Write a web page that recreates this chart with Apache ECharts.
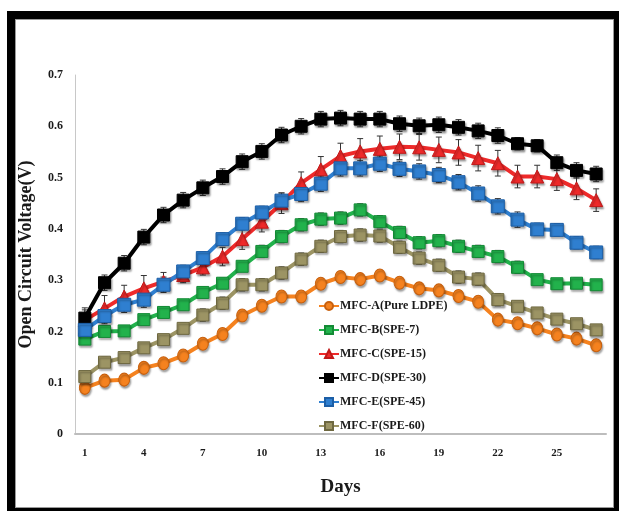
<!DOCTYPE html>
<html>
<head>
<meta charset="utf-8">
<script src="https://cdn.jsdelivr.net/npm/echarts@6/dist/echarts.min.js"></script>
<style>
  html, body { margin: 0; padding: 0; background: #fff; }
  #frame { position: absolute; left: 7px; top: 11px; width: 612px; height: 500px; background: #000; }
  #inner { position: absolute; left: 15px; top: 19px; width: 597px; height: 487px; background: #fff; border: 1px solid #9a9a9a; }
  #main { position: absolute; left: 0; top: 0; width: 619px; height: 511px; }
</style>
</head>
<body>
<div id="frame"></div>
<div id="inner"></div>
<div id="main"></div>
<script>
// days on x axis
const days = [];
for (let d = 1; d <= 27; d++) days.push(String(d));

const names = ['MFC-A(Pure LDPE)', 'MFC-B(SPE-7)', 'MFC-C(SPE-15)', 'MFC-D(SPE-30)', 'MFC-E(SPE-45)', 'MFC-F(SPE-60)'];

// open circuit voltage (V)
const mfcA = [0.090, 0.104, 0.106, 0.129, 0.138, 0.153, 0.176, 0.195, 0.231, 0.250, 0.268, 0.268, 0.293, 0.306, 0.302, 0.309, 0.295, 0.284, 0.280, 0.269, 0.258, 0.223, 0.216, 0.206, 0.194, 0.186, 0.173];
const mfcB = [0.185, 0.200, 0.201, 0.223, 0.237, 0.252, 0.276, 0.294, 0.327, 0.356, 0.385, 0.408, 0.419, 0.421, 0.437, 0.414, 0.393, 0.373, 0.377, 0.366, 0.356, 0.346, 0.325, 0.301, 0.293, 0.294, 0.291];
const mfcC = [0.222, 0.245, 0.268, 0.284, 0.297, 0.310, 0.325, 0.346, 0.380, 0.414, 0.450, 0.489, 0.516, 0.542, 0.551, 0.556, 0.560, 0.559, 0.554, 0.549, 0.538, 0.528, 0.502, 0.502, 0.497, 0.479, 0.456];
const mfcD = [0.226, 0.295, 0.333, 0.384, 0.427, 0.456, 0.480, 0.502, 0.531, 0.551, 0.583, 0.600, 0.614, 0.616, 0.614, 0.614, 0.605, 0.601, 0.603, 0.598, 0.591, 0.582, 0.566, 0.562, 0.529, 0.514, 0.507];
const mfcE = [0.203, 0.230, 0.252, 0.262, 0.291, 0.317, 0.343, 0.380, 0.410, 0.432, 0.455, 0.468, 0.488, 0.518, 0.518, 0.527, 0.517, 0.512, 0.505, 0.491, 0.469, 0.444, 0.418, 0.399, 0.398, 0.373, 0.354];
const mfcF = [0.112, 0.140, 0.149, 0.168, 0.184, 0.206, 0.232, 0.255, 0.291, 0.291, 0.314, 0.341, 0.366, 0.385, 0.388, 0.386, 0.364, 0.343, 0.329, 0.306, 0.302, 0.262, 0.249, 0.236, 0.224, 0.215, 0.203];

// error bar half widths
const errA = [0.008, 0.008, 0.008, 0.008, 0.008, 0.008, 0.010, 0.010, 0.010, 0.010, 0.010, 0.010, 0.010, 0.010, 0.010, 0.010, 0.010, 0.010, 0.010, 0.010, 0.010, 0.010, 0.010, 0.010, 0.010, 0.010, 0.010];
const errB = [0.010, 0.010, 0.010, 0.010, 0.010, 0.010, 0.010, 0.010, 0.010, 0.012, 0.012, 0.012, 0.012, 0.012, 0.012, 0.012, 0.012, 0.012, 0.012, 0.012, 0.012, 0.012, 0.012, 0.010, 0.010, 0.010, 0.010];
const errC = [0.020, 0.025, 0.022, 0.025, 0.018, 0.015, 0.015, 0.018, 0.020, 0.020, 0.020, 0.022, 0.025, 0.025, 0.025, 0.025, 0.025, 0.025, 0.025, 0.025, 0.025, 0.025, 0.022, 0.022, 0.022, 0.022, 0.022];
const errD = [0.020, 0.015, 0.015, 0.015, 0.015, 0.015, 0.015, 0.015, 0.015, 0.015, 0.015, 0.015, 0.015, 0.015, 0.015, 0.015, 0.015, 0.015, 0.015, 0.015, 0.015, 0.015, 0.012, 0.012, 0.015, 0.015, 0.015];
const errE = [0.015, 0.015, 0.015, 0.015, 0.015, 0.012, 0.012, 0.012, 0.012, 0.012, 0.015, 0.015, 0.015, 0.015, 0.015, 0.015, 0.015, 0.015, 0.015, 0.015, 0.015, 0.015, 0.015, 0.012, 0.012, 0.012, 0.012];
const errF = [0.010, 0.010, 0.010, 0.010, 0.010, 0.010, 0.012, 0.012, 0.012, 0.012, 0.012, 0.012, 0.012, 0.012, 0.012, 0.012, 0.012, 0.012, 0.012, 0.012, 0.012, 0.012, 0.010, 0.010, 0.010, 0.010, 0.010];

const yTicks = [0, 0.1, 0.2, 0.3, 0.4, 0.5, 0.6, 0.7];

const chart = echarts.init(document.getElementById('main'), null, { renderer: 'canvas' });
const serif = 'Liberation Serif';

function lineSeries(name, data, color, border, symbol, size) {
  return {
    name: name,
    type: 'line',
    data: data,
    symbol: symbol,
    symbolSize: size,
    z: 3,
    lineStyle: { color: color, width: 4 },
    itemStyle: {
      color: color, borderColor: border, borderWidth: 1,
      shadowColor: 'rgba(0,0,0,0.35)', shadowBlur: 2, shadowOffsetX: 1, shadowOffsetY: 2
    },
    emphasis: { disabled: true },
    animation: false
  };
}

function errSeries(vals, errs) {
  return {
    type: 'custom',
    z: 2,
    silent: true,
    animation: false,
    data: vals.map((v, i) => [i, v - errs[i], v + errs[i]]),
    renderItem: function (params, api) {
      const lo = api.coord([api.value(0), api.value(1)]);
      const hi = api.coord([api.value(0), api.value(2)]);
      const w = 3;
      const st = { stroke: '#333', lineWidth: 1 };
      return {
        type: 'group',
        children: [
          { type: 'line', shape: { x1: lo[0], y1: lo[1], x2: hi[0], y2: hi[1] }, style: st },
          { type: 'line', shape: { x1: lo[0] - w, y1: lo[1], x2: lo[0] + w, y2: lo[1] }, style: st },
          { type: 'line', shape: { x1: hi[0] - w, y1: hi[1], x2: hi[0] + w, y2: hi[1] }, style: st }
        ]
      };
    }
  };
}

chart.setOption({
  backgroundColor: 'transparent',
  grid: { left: 75, right: 13, top: 75, bottom: 77 },
  legend: {
    data: names,
    orient: 'vertical',
    left: 318,
    top: 300,
    padding: 0,
    itemGap: 12,
    itemWidth: 20,
    itemHeight: 10,
    textStyle: { fontFamily: serif, fontWeight: 'bold', fontSize: 12, color: '#1a1a1a', padding: [0, 0, 0, -4] }
  },
  xAxis: {
    type: 'category',
    data: days,
    boundaryGap: true,
    name: 'Days',
    nameLocation: 'middle',
    nameGap: 44,
    nameTextStyle: { fontFamily: serif, fontWeight: 'bold', fontSize: 19, color: '#1a1a1a' },
    axisLine: { lineStyle: { color: '#bdbdbd', width: 2 } },
    axisTick: { show: false },
    axisLabel: {
      interval: 2,
      margin: 14,
      fontFamily: serif, fontWeight: 'bold', fontSize: 11, color: '#1a1a1a'
    }
  },
  yAxis: {
    type: 'value',
    min: 0,
    max: 0.7,
    interval: 0.1,
    name: 'Open Circuit Voltage(V)',
    nameLocation: 'middle',
    nameGap: 40,
    nameTextStyle: { fontFamily: serif, fontWeight: 'bold', fontSize: 18, color: '#1a1a1a' },
    axisLine: { show: true, lineStyle: { color: '#c8c8c8', width: 1 } },
    axisTick: { show: false },
    splitLine: { show: false },
    axisLabel: {
      margin: 12,
      fontFamily: serif, fontWeight: 'bold', fontSize: 12, color: '#1a1a1a',
      formatter: v => yTicks.indexOf(Math.round(v * 10) / 10) >= 0 ? String(Math.round(v * 10) / 10) : ''
    }
  },
  series: [
    errSeries(mfcA, errA),
    errSeries(mfcB, errB),
    errSeries(mfcC, errC),
    errSeries(mfcD, errD),
    errSeries(mfcE, errE),
    errSeries(mfcF, errF),
    lineSeries(names[0], mfcA, '#f5821f', '#c8600e', 'circle', [11, 13]),
    lineSeries(names[1], mfcB, '#22b24c', '#138a35', 'rect', 12),
    lineSeries(names[2], mfcC, '#ee2a2a', '#c01818', 'triangle', 13),
    lineSeries(names[3], mfcD, '#000000', '#000000', 'rect', 12),
    lineSeries(names[4], mfcE, '#2f7fd0', '#1c5ea6', 'rect', 13),
    lineSeries(names[5], mfcF, '#9c9464', '#6e6840', 'rect', 12)
  ]
});
</script>
</body>
</html>
